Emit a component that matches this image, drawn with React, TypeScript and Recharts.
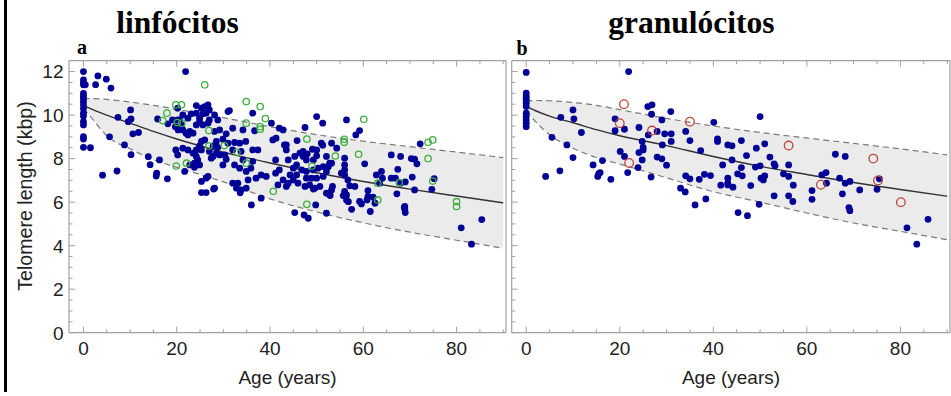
import { Area, ComposedChart, Line, Scatter, XAxis, YAxis } from 'recharts';

// fitted curve + 95% band at these ages
const AGES = [0, 2, 5, 10, 15, 20, 30, 40, 50, 60, 70, 80, 90];
const LIN_FIT = [10.45, 10.25, 10.0, 9.63, 9.25, 8.9, 8.3, 7.8, 7.35, 6.95, 6.6, 6.28, 5.97];
const LIN_UPPER = [10.75, 10.76, 10.72, 10.6, 10.45, 10.27, 9.88, 9.47, 9.1, 8.8, 8.55, 8.3, 8.05];
const LIN_LOWER = [10.3, 9.8, 9.05, 8.45, 7.95, 7.6, 6.93, 6.15, 5.55, 5.05, 4.62, 4.25, 3.88];
const GRA_FIT = [10.4, 10.2, 9.95, 9.65, 9.33, 9.05, 8.6, 8.1, 7.65, 7.27, 6.9, 6.58, 6.27];
const GRA_UPPER = [10.65, 10.67, 10.66, 10.58, 10.45, 10.25, 9.85, 9.5, 9.2, 8.95, 8.7, 8.45, 8.17];
const GRA_LOWER = [10.2, 9.7, 9.1, 8.48, 8.05, 7.75, 7.12, 6.48, 6.0, 5.5, 5.04, 4.66, 4.27];

const X_TICKS = [0, 5, 10, 15, 20, 25, 30, 35, 40, 45, 50, 55, 60, 65, 70, 75, 80, 85, 90];
const Y_TICKS = [0, 0.5, 1, 1.5, 2, 2.5, 3, 3.5, 4, 4.5, 5, 5.5, 6, 6.5, 7, 7.5, 8, 8.5, 9, 9.5, 10, 10.5, 11, 11.5, 12];

// lymphocytes, blue dots [age, kbp]
const LIN_BLUE = [
  [0, 12.0], [0, 11.62], [0, 11.5], [0, 11.39], [0, 11.0], [0, 10.88], [0, 10.78], [0, 10.62], [0, 10.47],
  [0, 10.3], [0, 10.09], [0, 9.96], [0, 9.7], [0, 9.55], [0, 9.01], [0, 8.9], [0, 8.52],
  [0.4, 11.39], [1.5, 8.5], [2.6, 11.4], [3.1, 11.8], [4.9, 11.65], [5.9, 11.24], [4.1, 7.24], [7.2, 7.43],
  [5.6, 9.0], [7.4, 9.9], [8.8, 8.63], [10.1, 10.24], [10.2, 9.82], [9.6, 9.7], [10.6, 9.14], [11.8, 9.2],
  [10.2, 8.18], [13.9, 8.09], [14.3, 7.72], [16.3, 7.94], [15.7, 7.33], [15.6, 7.2], [18, 7.07], [15.9, 9.82],
  [18.1, 9.6], [19.1, 9.78], [20.2, 9.78], [19.7, 9.47], [20.2, 10.32], [19.8, 8.4], [20.2, 8.17],
  [21.9, 12.0], [24.2, 10.44], [25.3, 10.32], [26.0, 10.39], [26.7, 10.47], [27.0, 10.24], [26.3, 10.09],
  [25.6, 10.06], [24.9, 9.86], [24.2, 10.09], [23.1, 10.06], [22.4, 9.86], [21.3, 10.01], [20.6, 9.78],
  [21.0, 9.55], [20.3, 9.32], [21.3, 9.32], [22.0, 9.17], [22.8, 9.25], [23.5, 9.17], [22.4, 9.09],
  [24.2, 9.55], [24.9, 9.7], [25.6, 9.55], [26.7, 9.63], [27.0, 9.78], [28.1, 10.01], [28.8, 9.78],
  [31.0, 10.16], [31.3, 10.21], [28.1, 9.25], [29.2, 9.32], [30.6, 9.14], [29.9, 8.89], [28.5, 8.79],
  [26.0, 8.86], [25.3, 8.79], [24.9, 8.59], [25.3, 8.4], [24.2, 8.4], [23.5, 8.25], [22.4, 8.4], [21.3, 8.48],
  [24.2, 8.1], [24.5, 7.94], [23.8, 7.79], [24.9, 7.71], [23.8, 7.6], [22.8, 7.71], [21.7, 7.41],
  [27.8, 8.59], [28.8, 8.52], [28.5, 8.25], [29.2, 8.17], [30.3, 8.17], [30.6, 7.97], [29.9, 7.71],
  [27.8, 8.1], [27.0, 8.33], [27.4, 8.02], [32.0, 9.4], [32.4, 8.74], [34.2, 9.32], [36.3, 10.09],
  [36.7, 9.28], [34.8, 8.79], [33.5, 8.71], [31.0, 8.71], [32.0, 8.4], [33.8, 8.33], [36.3, 8.4], [37.4, 8.4],
  [34.2, 7.94], [36.3, 7.87], [34.9, 7.41], [35.9, 7.56], [33.5, 7.56], [32.4, 7.71], [38.1, 7.25],
  [37.0, 7.1], [39.2, 7.18], [41.2, 7.94], [41.2, 7.33], [42.0, 7.48], [40.3, 9.63], [42.0, 9.4],
  [40.6, 8.86], [41.3, 8.94], [42.8, 9.32], [43.1, 8.63], [43.5, 8.4], [36.0, 5.87], [38.1, 6.18],
  [41.7, 6.79], [42.8, 7.02], [25.3, 6.95], [26.3, 7.1], [26.7, 7.18], [28.1, 6.64], [25.3, 6.44],
  [26.3, 6.44], [33.1, 6.87], [33.8, 6.56], [32.0, 6.87], [34.9, 6.64], [32.8, 6.64], [35.3, 7.02],
  [27.9, 6.6], [33.6, 6.43],
  [50.0, 9.93], [51.3, 9.63], [47.5, 9.43], [56.4, 9.78], [59.2, 9.29], [58.4, 9.09], [45.8, 8.83],
  [43.5, 8.63], [46.4, 8.25], [47.1, 8.33], [48.0, 8.22], [49.1, 8.43], [50.0, 8.4], [51.0, 8.71],
  [51.3, 8.62], [53.2, 8.71], [54.3, 8.48], [52.1, 8.1], [52.8, 7.79], [50.0, 8.13], [49.3, 7.94],
  [47.8, 7.94], [47.1, 8.1], [45.3, 8.1], [43.9, 7.94], [45.7, 7.71], [45.0, 7.56], [46.8, 7.48],
  [47.8, 7.41], [49.3, 7.48], [50.3, 7.56], [51.4, 7.63], [52.5, 7.63], [53.2, 7.79], [56.0, 8.02],
  [56.0, 7.71], [56.0, 7.48], [56.0, 7.25], [55.3, 7.33], [56.7, 7.02], [57.1, 6.75], [58.2, 6.72],
  [60.3, 7.76], [62.8, 7.25], [63.9, 7.41], [64.1, 7.1], [63.5, 6.87], [61.0, 6.53], [61.0, 6.26],
  [62.1, 6.23], [62.5, 5.95], [61.5, 5.57], [59.2, 6.03], [59.6, 5.92], [57.5, 5.67], [56.4, 6.1],
  [56.4, 6.33], [56.0, 6.49], [53.2, 6.56], [52.8, 6.33], [52.1, 6.41], [53.4, 6.72], [50.7, 6.72],
  [49.6, 6.64], [48.5, 6.79], [47.5, 6.72], [46.0, 6.87], [45.0, 7.02], [43.9, 6.87], [43.5, 6.72],
  [44.3, 7.25], [45.7, 7.25], [47.8, 7.1], [48.9, 7.1], [50.0, 7.1], [51.4, 7.18], [52.1, 7.41],
  [49.8, 5.87], [52.1, 5.49], [45.3, 5.52], [47.3, 5.41], [48.2, 5.26], [66.0, 8.17], [66.0, 7.1],
  [49.3, 6.6], [52.9, 6.3], [55.7, 6.3], [56.8, 6.02], [60.8, 6.1], [68.8, 5.76],
  [72.2, 8.68], [68.0, 8.1], [70.3, 8.0], [71.0, 7.97], [71.5, 7.76], [67.4, 7.51], [66.9, 7.1],
  [69.0, 6.93], [70.5, 7.15], [71.0, 6.56], [68.0, 6.87], [67.2, 6.38], [68.9, 5.8], [69.0, 5.52],
  [68.9, 5.67], [74.7, 6.59], [75.2, 7.08], [81.0, 4.82], [83.2, 4.07], [85.4, 5.2],
];

// lymphocytes, green open circles
const LIN_GREEN = [
  [17.0, 9.75], [17.9, 10.09], [19.8, 10.47], [21.0, 10.47], [20.1, 9.66], [21.1, 9.63], [19.9, 7.66],
  [22.1, 7.79], [26.0, 11.39], [26.9, 9.29], [26.9, 8.58], [30.2, 8.6], [32.9, 8.29], [34.9, 10.62],
  [34.9, 9.63], [34.9, 7.79], [37.9, 10.39], [39.0, 9.84], [37.9, 9.47], [37.9, 9.35], [40.7, 6.5],
  [47.9, 8.9], [49.0, 7.66], [55.9, 8.89], [55.9, 8.75], [54.0, 8.12], [59.0, 8.2], [60.1, 9.81],
  [63.1, 6.87], [63.1, 6.1], [47.9, 5.9], [67.7, 6.9], [73.9, 8.75], [74.9, 8.86], [73.9, 8.0],
  [74.9, 6.97], [80.0, 6.02], [80.0, 5.8],
];

// granulocytes, blue dots
const GRA_BLUE = [
  [0, 11.96], [0, 11.01], [0, 10.88], [0, 10.78], [0, 10.67], [0, 10.55], [0, 10.39], [0, 10.09],
  [0, 9.93], [0, 9.78], [0, 9.63], [0, 9.47],
  [4.15, 7.18], [7.2, 7.44], [5.5, 8.98], [7.4, 9.9], [10.0, 10.24], [10.2, 9.83], [8.7, 8.63],
  [11.8, 9.2], [10.0, 8.05], [14.3, 7.71], [16.3, 7.91], [15.5, 7.3], [15.8, 7.36], [15.3, 7.18],
  [18.1, 7.05], [19.0, 9.83], [19.0, 9.28], [20.1, 8.33],
  [21.9, 12.0], [26.0, 10.39], [26.9, 10.47], [26.8, 10.04], [30.9, 10.16], [29.0, 9.78], [21.0, 9.35],
  [24.1, 9.43], [26.1, 9.09], [28.0, 9.25], [29.6, 9.14], [31.0, 9.14], [34.1, 9.25], [35.0, 8.83],
  [31.0, 8.79], [24.8, 8.79], [25.0, 8.51], [25.0, 8.4], [24.1, 8.28], [29.1, 8.63], [37.3, 8.37],
  [40.1, 9.67], [40.9, 8.91], [40.9, 8.79], [43.1, 8.63], [21.0, 8.1], [24.8, 7.94],
  [28.0, 8.07], [29.0, 7.99], [30.0, 7.7], [21.7, 7.36], [23.9, 7.59], [26.7, 7.15], [34.1, 7.21],
  [35.0, 7.07], [37.0, 7.05], [38.1, 7.28], [39.4, 7.22], [42.0, 7.71], [41.6, 6.78], [43.1, 7.1],
  [43.1, 6.79], [33.0, 6.64], [34.0, 6.47], [36.1, 5.87], [38.4, 6.15],
  [50.0, 9.93], [44.0, 8.59], [46.0, 8.83], [49.2, 8.48], [51.0, 8.68], [47.1, 8.14],
  [52.1, 8.07], [44.0, 7.94], [46.0, 7.59], [49.0, 7.61], [50.0, 7.67], [53.0, 7.76], [53.2, 7.67],
  [56.1, 7.71], [55.0, 7.3], [56.1, 7.18], [45.2, 7.3], [46.2, 7.21], [43.1, 6.87], [44.2, 6.69],
  [50.2, 7.1], [51.0, 7.21], [50.7, 7.02], [48.0, 6.76], [57.1, 6.78], [53.0, 6.29], [56.1, 6.29],
  [57.0, 6.03], [49.8, 5.9], [45.3, 5.52], [47.3, 5.38], [61.1, 6.53], [61.1, 6.13], [63.2, 7.25],
  [64.1, 7.36], [64.2, 6.87], [66.1, 8.2],
  [68.2, 8.1], [67.0, 7.1], [68.2, 6.87], [69.2, 6.95], [67.6, 6.38], [69.0, 5.75], [69.2, 5.61],
  [71.3, 6.56], [75.0, 6.59], [75.5, 7.07], [81.4, 4.82], [83.5, 4.07], [85.9, 5.21],
];

// granulocytes, red open circles
const GRA_RED = [
  [20.9, 10.5], [20.0, 9.63], [26.9, 9.29], [35.0, 9.7], [22.0, 7.8], [56.1, 8.6], [74.2, 8.0],
  [75.2, 7.0], [63.0, 6.8], [80.1, 6.0],
];

const FRAME = '#a0a0a0';
const SANS = '"Liberation Sans", Arial, sans-serif';
const SERIF = '"Liberation Serif", "Times New Roman", serif';
const X_DOMAIN: [number, number] = [-3.1, 90.6];

const toPts = (rows: number[][]) => rows.map(([age, v]) => ({ age, v }));

function curveRows(fit: number[], upper: number[], lower: number[]) {
  return AGES.map((age, i) => ({ age, fit: fit[i], upper: upper[i], lower: lower[i], band: [lower[i], upper[i]] }));
}

const tick = (side: 'bottom' | 'top' | 'left' | 'right', label: boolean) => (p: any) => {
  const { x, y, payload } = p;
  const v = payload.value as number;
  const vertical = side === 'bottom' || side === 'top';
  const major = vertical ? v % 20 === 0 : v % 2 === 0;
  const len = major ? 6 : 3.5;
  let line;
  if (side === 'bottom') line = <line x1={x} x2={x} y1={y} y2={y - len} stroke={FRAME} />;
  else if (side === 'top') line = <line x1={x} x2={x} y1={y} y2={y + len} stroke={FRAME} />;
  else if (side === 'left') line = <line x1={x} x2={x + len} y1={y} y2={y} stroke={FRAME} />;
  else line = <line x1={x} x2={x - len} y1={y} y2={y} stroke={FRAME} />;
  return (
    <g>
      {line}
      {label && major && side === 'bottom' && (
        <text x={x} y={y + 22.6} textAnchor="middle" fontFamily={SANS} fontSize={19} fill="#222">
          {v}
        </text>
      )}
      {label && major && side === 'left' && (
        <text x={x - 5.5} y={y} dy="0.36em" textAnchor="end" fontFamily={SANS} fontSize={19} fill="#222">
          {v}
        </text>
      )}
    </g>
  );
};

const dot = (fill: string) => (p: any) => <circle cx={p.cx} cy={p.cy} r={3.4} fill={fill} />;
const ring = (stroke: string, r: number) => (p: any) => (
  <circle cx={p.cx} cy={p.cy} r={r} fill="none" stroke={stroke} strokeWidth={1.3} />
);

// axes are 1px thick (recharts skips a 0px axis), margins are trimmed by that pixel
function Panel({
  width,
  margin,
  rows,
  blue,
  open,
  openShape,
  yLabels,
}: {
  width: number;
  margin: { top: number; right: number; bottom: number; left: number };
  rows: ReturnType<typeof curveRows>;
  blue: number[][];
  open: number[][];
  openShape: (p: any) => React.ReactElement;
  yLabels: boolean;
}) {
  const axisLine = { stroke: FRAME, strokeWidth: 1.2 };
  return (
    <ComposedChart width={width} height={396} data={rows} margin={margin}>
      <XAxis
        dataKey="age"
        type="number"
        domain={X_DOMAIN}
        ticks={X_TICKS}
        interval={0}
        height={1}
        tickSize={0}
        tickMargin={0}
        tickLine={false}
        axisLine={axisLine}
        tick={tick('bottom', true)}
      />
      <XAxis
        xAxisId="top"
        orientation="top"
        dataKey="age"
        type="number"
        domain={X_DOMAIN}
        ticks={X_TICKS}
        interval={0}
        height={1}
        tickSize={0}
        tickMargin={0}
        tickLine={false}
        axisLine={axisLine}
        tick={tick('top', false)}
      />
      <YAxis
        type="number"
        domain={[0, 12.5]}
        ticks={Y_TICKS}
        interval={0}
        width={1}
        tickSize={0}
        tickMargin={0}
        tickLine={false}
        axisLine={axisLine}
        tick={tick('left', yLabels)}
      />
      <YAxis
        yAxisId="right"
        orientation="right"
        type="number"
        domain={[0, 12.5]}
        ticks={Y_TICKS}
        interval={0}
        width={1}
        tickSize={0}
        tickMargin={0}
        tickLine={false}
        axisLine={axisLine}
        tick={tick('right', false)}
      />
      <Area dataKey="band" type="monotone" fill="#ebebeb" fillOpacity={1} stroke="none" isAnimationActive={false} />
      <Line dataKey="upper" type="monotone" stroke="#7a7a7a" strokeWidth={1.2} strokeDasharray="6 4" dot={false} activeDot={false} isAnimationActive={false} />
      <Line dataKey="lower" type="monotone" stroke="#7a7a7a" strokeWidth={1.2} strokeDasharray="6 4" dot={false} activeDot={false} isAnimationActive={false} />
      <Line dataKey="fit" type="monotone" stroke="#333" strokeWidth={1.4} dot={false} activeDot={false} isAnimationActive={false} />
      <Scatter data={toPts(blue)} dataKey="v" shape={dot('#000096')} isAnimationActive={false} />
      <Scatter data={toPts(open)} dataKey="v" shape={openShape} isAnimationActive={false} />
    </ComposedChart>
  );
}

export default function App() {
  return (
    <div style={{ position: 'absolute', left: 0, top: 0, width: 951, height: 396, background: '#fff', overflow: 'hidden' }}>
      <div style={{ position: 'absolute', left: 4, top: 0, width: 2.5, height: 392, background: '#000' }} />
      <div style={{ position: 'absolute', left: 0, top: 0 }}>
        <Panel
          width={509}
          margin={{ top: 59.7, right: 2, bottom: 62.3, left: 68 }}
          rows={curveRows(LIN_FIT, LIN_UPPER, LIN_LOWER)}
          blue={LIN_BLUE}
          open={LIN_GREEN}
          openShape={ring('#3caf3c', 3.2)}
          yLabels
        />
      </div>
      <div style={{ position: 'absolute', left: 509, top: 0 }}>
        <Panel
          width={442}
          margin={{ top: 59.7, right: 0, bottom: 62.3, left: 1.7 }}
          rows={curveRows(GRA_FIT, GRA_UPPER, GRA_LOWER)}
          blue={GRA_BLUE}
          open={GRA_RED}
          openShape={ring('#c0443a', 4.3)}
          yLabels={false}
        />
      </div>
      <svg width={951} height={396} style={{ position: 'absolute', left: 0, top: 0, pointerEvents: 'none' }}>
        <text x={177.5} y={33} textAnchor="middle" fontFamily={SERIF} fontWeight="bold" fontSize={31.5} fill="#000">
          linfócitos
        </text>
        <text x={691.3} y={33} textAnchor="middle" fontFamily={SERIF} fontWeight="bold" fontSize={31.5} fill="#000">
          granulócitos
        </text>
        <text x={77} y={54} fontFamily={SERIF} fontWeight="bold" fontSize={20} fill="#000">a</text>
        <text x={516.5} y={55} fontFamily={SERIF} fontWeight="bold" fontSize={20} fill="#000">b</text>
        <text
          x={31.5}
          y={196}
          transform="rotate(-90 31.5 196)"
          textAnchor="middle"
          fontFamily={SANS}
          fontSize={19.6}
          fill="#222"
        >
          Telomere length (kbp)
        </text>
        <text x={287.5} y={383.6} textAnchor="middle" fontFamily={SANS} fontSize={19} fill="#222">
          Age (years)
        </text>
        <text x={731} y={383.6} textAnchor="middle" fontFamily={SANS} fontSize={19} fill="#222">
          Age (years)
        </text>
      </svg>
    </div>
  );
}
